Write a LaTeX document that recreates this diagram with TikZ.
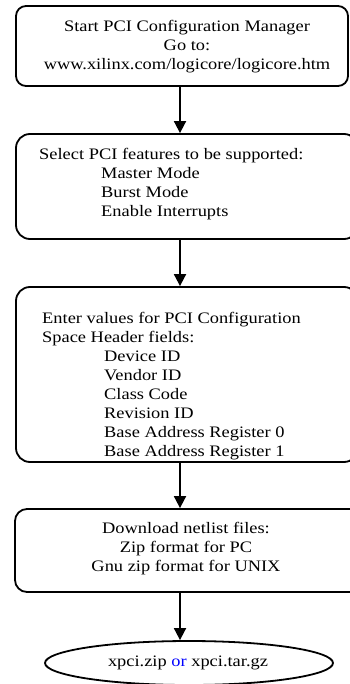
\documentclass[tikz,border=0pt]{standalone}
\usepackage{fontspec}
\setmainfont{Liberation Serif}[FakeStretch=1.15]
\usetikzlibrary{arrows.meta,shapes.geometric}
\begin{document}
\begin{tikzpicture}[x=1pt,y=-1pt,
  stepbox/.style={draw, line width=1.8pt, inner sep=0pt},
  txt/.style={inner sep=0pt, font=\fontsize{16}{19}\selectfont},
  arr/.style={line width=1.8pt, -{Triangle[width=12pt,length=12pt]}}]
\useasboundingbox (0,0) rectangle (350,684);
\clip (0,0) rectangle (350,684);

% flow boxes
\node[stepbox, rounded corners=10pt, minimum width=332pt, minimum height=80pt]  (b1) at (182,46) {};
\node[stepbox, rounded corners=14pt, minimum width=342pt, minimum height=105pt] (b2) at (187,186.5) {};
\node[stepbox, rounded corners=14pt, minimum width=342pt, minimum height=175pt] (b3) at (187,374.5) {};
\node[stepbox, rounded corners=12pt, minimum width=355pt, minimum height=83pt]  (b4) at (192.5,550.5) {};
\node[stepbox, ellipse, minimum width=288pt, minimum height=44pt] (out) at (189,663) {};

% box texts
\node[txt, align=center] (t1) at (187,47)
  {Start PCI Configuration Manager\\Go to:\\www.xilinx.com/logicore/logicore.htm};
\node[txt, align=left, anchor=west] (t2) at (39,184)
  {Select PCI features to be supported:\\
   \hspace*{62pt}Master Mode\\
   \hspace*{62pt}Burst Mode\\
   \hspace*{62pt}Enable Interrupts};
\node[txt, align=left, anchor=west] (t3) at (42,386)
  {Enter values for PCI Configuration\\
   Space Header fields:\\
   \hspace*{62pt}Device ID\\
   \hspace*{62pt}Vendor ID\\
   \hspace*{62pt}Class Code\\
   \hspace*{62pt}Revision ID\\
   \hspace*{62pt}Base Address Register 0\\
   \hspace*{62pt}Base Address Register 1};
\node[txt, align=center] (t4) at (186,548.5)
  {Download netlist files:\\Zip format for PC\\Gnu zip format for UNIX};
\node[txt] (t5) at (188,663) {xpci.zip {\color{blue}or} xpci.tar.gz};

% connectors
\coordinate (ax) at (180,0);
\draw[arr] (b1.south -| ax) -- (b2.north -| ax);
\draw[arr] (b2.south -| ax) -- (b3.north -| ax);
\draw[arr] (b3.south -| ax) -- (b4.north -| ax);
\draw[arr] (b4.south -| ax) -- (out.north -| ax);
\end{tikzpicture}
\end{document}
